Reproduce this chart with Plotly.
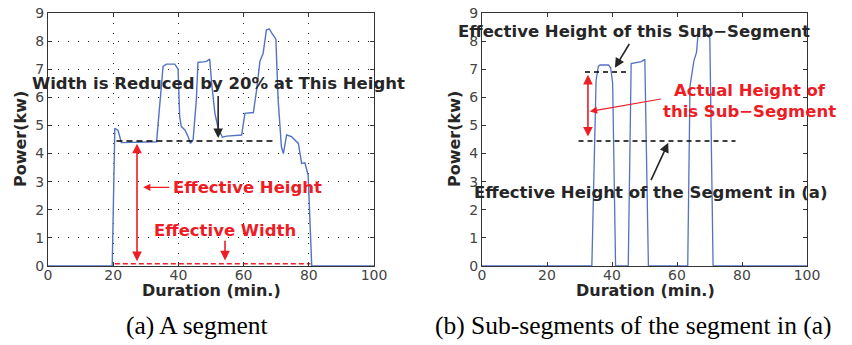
import plotly.graph_objects as go

# ---- data (a) whole segment ----
seg_x = [0, 19.7, 20.5, 21.5, 22.5, 25, 30, 33.3, 35.3, 36.3, 38.9, 39.9, 40.4, 40.9, 42, 43, 43.7, 44.5,
         45.5, 46, 47.6, 48.6, 49.6, 50.2, 51.2, 52.2, 53.5, 54.8, 59.4, 60.4, 63, 64, 65, 66, 67, 67.9,
         68.6, 69.9, 70.6, 71.6, 72.2, 73.2, 74.7, 76.8, 77.8, 78.8, 79.8, 80.9, 100]
seg_y = [0, 0, 4.9, 4.82, 4.39, 4.4, 4.42, 4.42, 7.1, 7.18, 7.18, 7.0, 5.3, 4.96, 4.84, 4.6, 4.36, 4.48,
         5.9, 7.24, 7.26, 7.28, 7.36, 6.5, 5.43, 4.9, 4.58, 4.62, 4.66, 5.43, 5.46, 6.27, 7.28, 7.57, 8.4, 8.43,
         8.29, 8.07, 5.9, 4.24, 4.0, 4.66, 4.6, 4.36, 3.65, 3.67, 3.23, 0, 0]

# ---- data (b) sub-segments ----
sub_x = [0, 33.8, 35.1, 35.8, 36.3, 38.9, 39.6, 40.2, 41.1, 45.0, 45.9, 47.5, 49.0, 50.1, 51.2,
         63.3, 64.0, 65.2, 66.0, 66.6, 68.0, 69.0, 70.1, 71.1, 100]
sub_y = [0, 0, 6.6, 7.1, 7.15, 7.15, 7.05, 6.5, 0, 0, 7.2, 7.25, 7.27, 7.35, 0,
         0, 6.4, 7.3, 7.6, 8.4, 8.45, 8.3, 8.1, 0, 0]

eff_height_a = 4.45
eff_width_level = 0.08
eff_height_b = 6.9

x_ticks = [0, 20, 40, 60, 80, 100]
y_ticks = list(range(10))

BLUE = "#5272c4"
RED = "#ee1c24"
DARK = "#262626"
FONT = "DejaVu Sans"
TSIZE = 16.5

fig = go.Figure()
fig.add_trace(go.Scatter(x=seg_x, y=seg_y, mode="lines", line=dict(color=BLUE, width=1.4),
                         xaxis="x", yaxis="y", showlegend=False))
fig.add_trace(go.Scatter(x=[21, 70], y=[eff_height_a] * 2, mode="lines",
                         line=dict(color="black", width=1.5, dash="6px,4px"), xaxis="x", yaxis="y",
                         showlegend=False))
fig.add_trace(go.Scatter(x=[20.5, 80.5], y=[eff_width_level] * 2, mode="lines",
                         line=dict(color=RED, width=1.5, dash="5px,3px"), xaxis="x", yaxis="y",
                         showlegend=False))

fig.add_trace(go.Scatter(x=sub_x, y=sub_y, mode="lines", line=dict(color=BLUE, width=1.3),
                         xaxis="x2", yaxis="y2", showlegend=False))
fig.add_trace(go.Scatter(x=[31.7, 45], y=[eff_height_b] * 2, mode="lines",
                         line=dict(color="black", width=1.5, dash="5px,4px"), xaxis="x2", yaxis="y2",
                         showlegend=False))
fig.add_trace(go.Scatter(x=[29.7, 78], y=[eff_height_a] * 2, mode="lines",
                         line=dict(color="black", width=1.5, dash="5px,4px"), xaxis="x2", yaxis="y2",
                         showlegend=False))

ax_common = dict(showline=True, linecolor="#333", linewidth=1, mirror="ticks", ticks="inside",
                 ticklen=4, tickcolor="#333", zeroline=False, automargin=False,
                 tickfont=dict(family=FONT, size=14, color="#444"))
x_extra = dict(ticklabelstandoff=-4)

fig.update_layout(
    width=852, height=345, margin=dict(l=0, r=0, t=0, b=0, autoexpand=False),
    paper_bgcolor="white", plot_bgcolor="white",
    xaxis=dict(domain=[48 / 852, 374 / 852], range=[0, 100], tickvals=x_ticks,
               showgrid=True, gridcolor="#222", griddash="1px,9px", gridwidth=1, anchor="y",
               **ax_common, **x_extra),
    yaxis=dict(domain=[(345 - 266) / 345, (345 - 13) / 345], range=[0, 9], tickvals=y_ticks,
               showgrid=True, gridcolor="#222", griddash="1px,9px", gridwidth=1, anchor="x", **ax_common),
    xaxis2=dict(domain=[482 / 852, 807 / 852], range=[0, 100], tickvals=x_ticks, showgrid=False,
                anchor="y2", **ax_common, **x_extra),
    yaxis2=dict(domain=[(345 - 266) / 345, (345 - 13) / 345], range=[0, 9], tickvals=y_ticks,
                showgrid=False, anchor="x2", **ax_common),
)

ann = []
def arrow(xr, yr, x, y, ax, ay, color, both=False, width=1.6):
    ann.append(dict(xref=xr, yref=yr, x=x, y=y, ax=ax, ay=ay, axref=xr, ayref=yr, text="",
                    showarrow=True, arrowhead=2, arrowsize=1.2, arrowwidth=width, arrowcolor=color,
                    arrowside="end+start" if both else "end", startarrowhead=2, startarrowsize=1.2))

def text(xr, yr, x, y, s, color, size=TSIZE, xanchor="center"):
    ann.append(dict(xref=xr, yref=yr, x=x, y=y, text="<b>" + s + "</b>", showarrow=False,
                    font=dict(family=FONT, size=size, color=color), xanchor=xanchor, yanchor="middle"))

# (a) annotations
text("x", "y", 52.2, 6.5, "Width is Reduced by 20% at This Height", DARK)
arrow("x", "y", 52.2, 4.55, 52.2, 6.1, DARK)
arrow("x", "y", 27.3, 4.35, 27.3, 0.12, RED, both=True)
arrow("x", "y", 29.2, 2.8, 37.6, 2.8, RED, width=1.2)
text("x", "y", 37.8, 2.8, "Effective Height", RED, xanchor="left")
text("x", "y", 54.3, 1.28, "Effective Width", RED)
arrow("x", "y", 54.3, 0.2, 54.3, 0.95, RED)

# (b) annotations
text("x2", "y2", 46.8, 8.33, "Effective Height of this Sub\u2212Segment", DARK)
arrow("x2", "y2", 40.9, 7.05, 45.6, 7.95, DARK)
arrow("x2", "y2", 32.6, 6.8, 32.6, 4.55, RED, both=True)
arrow("x2", "y2", 33.2, 5.5, 55.5, 5.95, RED, width=1.2)
text("x2", "y2", 82.2, 5.87, "Actual Height of<br>this Sub\u2212Segment", RED)
text("x2", "y2", 52, 2.6, "Effective Height of the Segment in (a)", DARK)
arrow("x2", "y2", 57.3, 4.38, 51.8, 3.0, DARK)

# axis titles
for xc in [211 / 852, 645 / 852]:
    ann.append(dict(xref="paper", yref="paper", x=xc, y=(345 - 290) / 345, text="<b>Duration (min.)</b>",
                    showarrow=False, font=dict(family=FONT, size=16, color=DARK),
                    xanchor="center", yanchor="middle"))
for xc in [20 / 852, 454 / 852]:
    ann.append(dict(xref="paper", yref="paper", x=xc, y=(345 - 139) / 345, text="<b>Power(kw)</b>",
                    showarrow=False, textangle=-90, font=dict(family=FONT, size=16, color=DARK),
                    xanchor="center", yanchor="middle"))

# captions
ann.append(dict(xref="paper", yref="paper", x=197 / 852, y=(345 - 325) / 345, text="(a) A segment",
                showarrow=False, font=dict(family="Liberation Serif", size=25.5, color="black"),
                xanchor="center", yanchor="middle"))
ann.append(dict(xref="paper", yref="paper", x=633 / 852, y=(345 - 325) / 345,
                text="(b) Sub-segments of the segment in (a)",
                showarrow=False, font=dict(family="Liberation Serif", size=25.5, color="black"),
                xanchor="center", yanchor="middle"))

fig.update_layout(annotations=ann)
fig.write_html("out.html")
